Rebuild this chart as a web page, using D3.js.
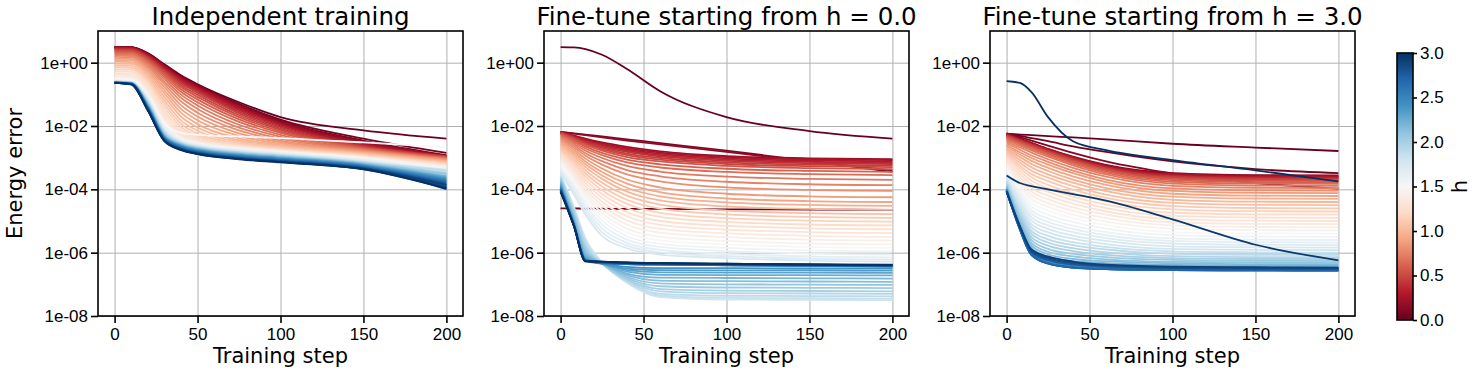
<!DOCTYPE html>
<html lang="en">
<head>
<meta charset="UTF-8">
<title>Energy error vs training step</title>
<script src="https://d3js.org/d3.v7.min.js"></script>
<style>
    body { margin: 0; background: #fff; }
    svg { font-family: "DejaVu Sans", sans-serif; }
    .axis text { font-size: 17px; fill: #000; }
    .axis path, .axis line { stroke: #000; stroke-width: 1.6px; }
    .grid line { stroke: #b0b0b0; stroke-width: 1px; }
    .grid path { display: none; }
    .frame { fill: none; stroke: #000; stroke-width: 1.6px; }
    .title { font-size: 24.5px; text-anchor: middle; }
    .label { font-size: 21px; text-anchor: middle; }
    .curve { fill: none; stroke-width: 1.8px; }
</style>
</head>
<body>
<svg id="chart" width="1477" height="373"></svg>
<script>
// h value of each curve (colour)
const hValues = [0.00, 0.05, 0.10, 0.15, 0.20, 0.25, 0.30, 0.35, 0.40, 0.45,
    0.50, 0.55, 0.60, 0.65, 0.70, 0.75, 0.80, 0.85, 0.90, 0.95,
    1.00, 1.05, 1.10, 1.15, 1.20, 1.25, 1.30, 1.35, 1.40, 1.45,
    1.50, 1.55, 1.60, 1.65, 1.70, 1.75, 1.80, 1.85, 1.90, 1.95,
    2.00, 2.05, 2.10, 2.15, 2.20, 2.25, 2.30, 2.35, 2.40, 2.45,
    2.50, 2.55, 2.60, 2.65, 2.70, 2.75, 2.80, 2.85, 2.90, 2.95, 3.00];

const titles = ["Independent training", "Fine-tune starting from h = 0.0", "Fine-tune starting from h = 3.0"];
const xTicks = [0, 50, 100, 150, 200];
const yTicks = [1e-8, 1e-6, 1e-4, 1e-2, 1];
const cbTicks = [0, 0.5, 1.0, 1.5, 2.0, 2.5, 3.0];

// training steps at which the curves were read
const steps1 = [0, 10, 20, 30, 40, 50, 75, 100, 150, 200];
const steps2 = [0, 8, 15, 25, 40, 60, 100, 150, 200];
const steps3 = [0, 8, 15, 25, 40, 60, 100, 150, 200];

// log10(energy error), one row per h value
const indepLogErr = [
    [0.50, 0.49, 0.30, -0.05, -0.40, -0.68, -1.25, -1.72, -2.14, -2.40],
    [0.50, 0.49, 0.29, -0.07, -0.42, -0.70, -1.30, -1.80, -2.40, -2.85],
    [0.49, 0.48, 0.28, -0.08, -0.44, -0.72, -1.32, -1.84, -2.46, -2.92],
    [0.49, 0.48, 0.27, -0.10, -0.46, -0.74, -1.35, -1.87, -2.50, -2.94],
    [0.48, 0.47, 0.26, -0.11, -0.48, -0.76, -1.38, -1.90, -2.53, -2.95],
    [0.47, 0.46, 0.24, -0.13, -0.50, -0.79, -1.41, -1.93, -2.56, -2.96],
    [0.46, 0.45, 0.22, -0.16, -0.53, -0.82, -1.45, -1.96, -2.58, -2.95],
    [0.45, 0.44, 0.20, -0.19, -0.57, -0.86, -1.50, -2.00, -2.61, -2.97],
    [0.43, 0.42, 0.18, -0.22, -0.61, -0.90, -1.55, -2.04, -2.63, -2.96],
    [0.41, 0.40, 0.15, -0.26, -0.66, -0.95, -1.60, -2.08, -2.65, -2.98],
    [0.39, 0.38, 0.12, -0.30, -0.71, -1.01, -1.66, -2.12, -2.67, -2.97],
    [0.36, 0.35, 0.09, -0.34, -0.77, -1.08, -1.72, -2.17, -2.69, -2.99],
    [0.33, 0.32, 0.05, -0.39, -0.84, -1.16, -1.79, -2.22, -2.71, -3.00],
    [0.30, 0.29, 0.01, -0.45, -0.92, -1.25, -1.87, -2.28, -2.73, -3.02],
    [0.26, 0.25, -0.04, -0.52, -1.01, -1.35, -1.96, -2.34, -2.75, -3.03],
    [0.22, 0.21, -0.09, -0.60, -1.11, -1.46, -2.05, -2.40, -2.77, -3.05],
    [0.18, 0.17, -0.14, -0.68, -1.22, -1.58, -2.14, -2.46, -2.79, -3.06],
    [0.13, 0.12, -0.20, -0.77, -1.34, -1.70, -2.23, -2.51, -2.81, -3.08],
    [0.08, 0.07, -0.26, -0.87, -1.46, -1.82, -2.31, -2.56, -2.83, -3.10],
    [0.03, 0.02, -0.32, -0.97, -1.58, -1.94, -2.39, -2.60, -2.85, -3.12],
    [-0.03, -0.04, -0.39, -1.08, -1.70, -2.05, -2.45, -2.64, -2.87, -3.14],
    [-0.09, -0.10, -0.46, -1.19, -1.82, -2.15, -2.50, -2.67, -2.89, -3.16],
    [-0.15, -0.16, -0.53, -1.30, -1.93, -2.24, -2.55, -2.70, -2.91, -3.18],
    [-0.21, -0.22, -0.60, -1.41, -2.03, -2.31, -2.59, -2.73, -2.93, -3.20],
    [-0.27, -0.28, -0.67, -1.52, -2.12, -2.37, -2.62, -2.75, -2.95, -3.22],
    [-0.33, -0.34, -0.74, -1.62, -2.20, -2.42, -2.64, -2.77, -2.97, -3.24],
    [-0.38, -0.40, -0.81, -1.72, -2.27, -2.46, -2.66, -2.78, -2.98, -3.26],
    [-0.43, -0.45, -0.88, -1.81, -2.32, -2.49, -2.68, -2.79, -2.99, -3.28],
    [-0.47, -0.49, -0.94, -1.89, -2.36, -2.52, -2.70, -2.80, -3.00, -3.30],
    [-0.50, -0.52, -0.99, -1.95, -2.39, -2.54, -2.71, -2.81, -3.01, -3.32],
    [-0.53, -0.55, -1.03, -1.90, -2.22, -2.28, -2.33, -2.38, -2.52, -2.67],
    [-0.55, -0.57, -1.06, -2.00, -2.42, -2.57, -2.73, -2.83, -3.04, -3.36],
    [-0.57, -0.59, -1.10, -2.04, -2.45, -2.59, -2.75, -2.85, -3.06, -3.40],
    [-0.58, -0.60, -1.13, -2.08, -2.47, -2.61, -2.77, -2.87, -3.08, -3.45],
    [-0.58, -0.61, -1.16, -2.11, -2.49, -2.62, -2.78, -2.88, -3.10, -3.50],
    [-0.59, -0.61, -1.18, -2.14, -2.51, -2.64, -2.80, -2.90, -3.12, -3.55],
    [-0.59, -0.62, -1.20, -2.16, -2.52, -2.65, -2.81, -2.91, -3.13, -3.38],
    [-0.60, -0.62, -1.22, -2.18, -2.53, -2.66, -2.82, -2.92, -3.14, -3.60],
    [-0.60, -0.63, -1.24, -2.20, -2.54, -2.67, -2.83, -2.93, -3.15, -3.42],
    [-0.60, -0.63, -1.26, -2.22, -2.55, -2.68, -2.84, -2.94, -3.16, -3.65],
    [-0.61, -0.63, -1.27, -2.24, -2.56, -2.69, -2.85, -2.95, -3.17, -3.48],
    [-0.61, -0.64, -1.29, -2.26, -2.57, -2.70, -2.86, -2.96, -3.18, -3.70],
    [-0.61, -0.64, -1.30, -2.28, -2.58, -2.71, -2.87, -2.97, -3.19, -3.52],
    [-0.61, -0.64, -1.32, -2.30, -2.59, -2.72, -2.88, -2.98, -3.20, -3.75],
    [-0.62, -0.65, -1.33, -2.31, -2.60, -2.73, -2.89, -2.99, -3.21, -3.58],
    [-0.62, -0.65, -1.35, -2.33, -2.61, -2.74, -2.90, -3.00, -3.22, -3.80],
    [-0.62, -0.65, -1.36, -2.34, -2.62, -2.75, -2.91, -3.01, -3.23, -3.62],
    [-0.62, -0.65, -1.38, -2.35, -2.63, -2.76, -2.92, -3.02, -3.24, -3.85],
    [-0.62, -0.66, -1.39, -2.36, -2.64, -2.77, -2.93, -3.03, -3.25, -3.66],
    [-0.63, -0.66, -1.40, -2.37, -2.65, -2.78, -2.94, -3.04, -3.26, -3.90],
    [-0.63, -0.66, -1.41, -2.38, -2.66, -2.79, -2.95, -3.05, -3.27, -3.70],
    [-0.63, -0.66, -1.42, -2.39, -2.67, -2.80, -2.96, -3.06, -3.28, -3.95],
    [-0.63, -0.67, -1.43, -2.40, -2.68, -2.81, -2.97, -3.07, -3.29, -3.74],
    [-0.63, -0.67, -1.44, -2.41, -2.69, -2.82, -2.98, -3.08, -3.30, -4.00],
    [-0.63, -0.67, -1.45, -2.42, -2.70, -2.83, -2.99, -3.09, -3.31, -3.78],
    [-0.64, -0.67, -1.46, -2.43, -2.71, -2.84, -3.00, -3.10, -3.32, -3.88],
    [-0.64, -0.68, -1.47, -2.44, -2.72, -2.85, -3.01, -3.11, -3.33, -3.82],
    [-0.64, -0.68, -1.48, -2.45, -2.73, -2.86, -3.02, -3.12, -3.34, -3.92],
    [-0.64, -0.68, -1.49, -2.46, -2.74, -2.87, -3.03, -3.13, -3.35, -3.86],
    [-0.64, -0.68, -1.50, -2.47, -2.75, -2.88, -3.04, -3.14, -3.36, -3.96],
    [-0.64, -0.69, -1.51, -2.48, -2.76, -2.89, -3.05, -3.15, -3.37, -3.98]
];

const fromZeroLogErr = [
    [0.49, 0.48, 0.43, 0.25, -0.20, -0.90, -1.72, -2.16, -2.40],
    [-4.60, -4.60, -4.61, -4.61, -4.62, -4.62, -4.63, -4.64, -4.65],
    [-2.19, -2.23, -2.27, -2.33, -2.42, -2.54, -2.78, -3.10, -3.45],
    [-2.19, -2.24, -2.29, -2.36, -2.46, -2.58, -2.82, -3.12, -3.40],
    [-2.19, -2.30, -2.40, -2.52, -2.66, -2.80, -2.95, -3.02, -3.05],
    [-2.19, -2.31, -2.42, -2.55, -2.70, -2.84, -2.98, -3.05, -3.08],
    [-2.20, -2.33, -2.45, -2.58, -2.74, -2.88, -3.02, -3.09, -3.12],
    [-2.20, -2.34, -2.47, -2.61, -2.78, -2.92, -3.06, -3.13, -3.16],
    [-2.21, -2.36, -2.50, -2.65, -2.82, -2.96, -3.10, -3.17, -3.20],
    [-2.22, -2.38, -2.53, -2.69, -2.87, -3.01, -3.15, -3.22, -3.25],
    [-2.23, -2.40, -2.56, -2.73, -2.92, -3.06, -3.20, -3.27, -3.30],
    [-2.25, -2.43, -2.60, -2.78, -2.98, -3.12, -3.26, -3.33, -3.36],
    [-2.27, -2.47, -2.65, -2.85, -3.06, -3.21, -3.35, -3.42, -3.45],
    [-2.30, -2.51, -2.71, -2.92, -3.15, -3.31, -3.45, -3.52, -3.55],
    [-2.33, -2.56, -2.78, -3.01, -3.26, -3.44, -3.60, -3.67, -3.70],
    [-2.37, -2.62, -2.86, -3.11, -3.39, -3.59, -3.76, -3.84, -3.87],
    [-2.41, -2.68, -2.94, -3.22, -3.53, -3.75, -3.94, -4.02, -4.05],
    [-2.46, -2.75, -3.03, -3.34, -3.69, -3.94, -4.14, -4.22, -4.25],
    [-2.51, -2.82, -3.12, -3.45, -3.82, -4.09, -4.29, -4.37, -4.40],
    [-2.56, -2.89, -3.21, -3.56, -3.95, -4.22, -4.41, -4.49, -4.52],
    [-2.62, -2.96, -3.30, -3.67, -4.07, -4.35, -4.54, -4.62, -4.65],
    [-2.68, -3.04, -3.40, -3.79, -4.20, -4.48, -4.67, -4.75, -4.78],
    [-2.74, -3.12, -3.50, -3.91, -4.33, -4.61, -4.79, -4.87, -4.90],
    [-2.80, -3.20, -3.60, -4.03, -4.46, -4.74, -4.91, -4.99, -5.02],
    [-2.86, -3.28, -3.70, -4.15, -4.59, -4.87, -5.03, -5.11, -5.14],
    [-2.92, -3.36, -3.80, -4.27, -4.72, -5.00, -5.15, -5.23, -5.26],
    [-2.98, -3.44, -3.90, -4.39, -4.85, -5.12, -5.27, -5.35, -5.38],
    [-3.04, -3.52, -4.00, -4.51, -4.98, -5.25, -5.39, -5.47, -5.50],
    [-3.10, -3.60, -4.10, -4.63, -5.11, -5.37, -5.51, -5.59, -5.62],
    [-3.16, -3.68, -4.20, -4.75, -5.24, -5.50, -5.63, -5.71, -5.74],
    [-3.22, -3.76, -4.30, -4.87, -5.36, -5.61, -5.74, -5.82, -5.85],
    [-3.28, -3.84, -4.40, -4.99, -5.48, -5.72, -5.85, -5.93, -5.96],
    [-3.34, -3.92, -4.50, -5.11, -5.59, -5.82, -5.95, -6.03, -6.06],
    [-3.40, -4.00, -4.60, -5.23, -5.69, -5.91, -6.04, -6.12, -6.15],
    [-3.45, -4.08, -4.70, -5.35, -5.78, -5.99, -6.11, -6.19, -6.22],
    [-3.50, -4.16, -4.80, -5.47, -5.86, -6.06, -6.17, -6.25, -6.28],
    [-3.55, -4.55, -5.55, -6.30, -6.95, -7.40, -7.48, -7.49, -7.50],
    [-3.58, -4.60, -5.62, -6.32, -6.93, -7.36, -7.43, -7.44, -7.45],
    [-3.61, -4.65, -5.70, -6.33, -6.90, -7.30, -7.36, -7.37, -7.38],
    [-3.64, -4.70, -5.77, -6.34, -6.87, -7.22, -7.28, -7.29, -7.30],
    [-3.67, -4.75, -5.84, -6.34, -6.84, -7.15, -7.20, -7.21, -7.22],
    [-3.70, -4.80, -5.90, -6.34, -6.80, -7.06, -7.10, -7.11, -7.12],
    [-3.73, -4.85, -5.96, -6.34, -6.76, -6.97, -7.00, -7.01, -7.02],
    [-3.76, -4.90, -6.02, -6.34, -6.71, -6.88, -6.90, -6.91, -6.92],
    [-3.79, -4.95, -6.08, -6.34, -6.66, -6.79, -6.80, -6.81, -6.82],
    [-3.82, -5.00, -6.13, -6.34, -6.60, -6.70, -6.71, -6.71, -6.72],
    [-3.85, -5.04, -6.18, -6.34, -6.55, -6.62, -6.63, -6.63, -6.64],
    [-3.88, -5.08, -6.22, -6.35, -6.50, -6.55, -6.56, -6.56, -6.57],
    [-3.91, -5.12, -6.25, -6.35, -6.45, -6.49, -6.49, -6.50, -6.50],
    [-3.94, -5.10, -6.22, -6.33, -6.36, -6.38, -6.40, -6.42, -6.44],
    [-3.95, -5.11, -6.23, -6.33, -6.36, -6.38, -6.40, -6.42, -6.43],
    [-3.96, -5.11, -6.23, -6.32, -6.35, -6.37, -6.39, -6.41, -6.43],
    [-3.98, -5.12, -6.24, -6.32, -6.35, -6.37, -6.39, -6.41, -6.42],
    [-3.99, -5.12, -6.24, -6.31, -6.34, -6.36, -6.38, -6.40, -6.42],
    [-4.00, -5.13, -6.25, -6.31, -6.34, -6.36, -6.38, -6.40, -6.41],
    [-4.02, -5.13, -6.25, -6.30, -6.33, -6.35, -6.37, -6.39, -6.41],
    [-4.03, -5.14, -6.26, -6.30, -6.33, -6.35, -6.37, -6.39, -6.40],
    [-4.04, -5.14, -6.26, -6.29, -6.32, -6.34, -6.36, -6.38, -6.40],
    [-4.05, -5.15, -6.27, -6.29, -6.32, -6.34, -6.36, -6.38, -6.39],
    [-4.07, -5.15, -6.27, -6.28, -6.31, -6.33, -6.35, -6.37, -6.39],
    [-4.08, -5.16, -6.28, -6.28, -6.31, -6.33, -6.35, -6.37, -6.38]
];

const fromThreeLogErr = [
    [-2.24, -2.27, -2.29, -2.32, -2.36, -2.42, -2.56, -2.68, -2.79],
    [-2.24, -2.31, -2.38, -2.48, -2.64, -2.82, -3.12, -3.36, -3.49],
    [-2.24, -2.35, -2.46, -2.62, -2.85, -3.12, -3.50, -3.80, -3.98],
    [-2.24, -2.40, -2.53, -2.72, -2.97, -3.23, -3.49, -3.55, -3.56],
    [-2.25, -2.41, -2.54, -2.73, -2.98, -3.25, -3.51, -3.57, -3.58],
    [-2.26, -2.42, -2.55, -2.74, -3.00, -3.27, -3.53, -3.59, -3.60],
    [-2.27, -2.43, -2.57, -2.76, -3.01, -3.28, -3.55, -3.61, -3.62],
    [-2.28, -2.44, -2.58, -2.77, -3.03, -3.30, -3.57, -3.63, -3.64],
    [-2.29, -2.45, -2.59, -2.78, -3.04, -3.32, -3.59, -3.65, -3.66],
    [-2.31, -2.47, -2.61, -2.80, -3.06, -3.34, -3.61, -3.67, -3.68],
    [-2.33, -2.50, -2.63, -2.83, -3.09, -3.37, -3.64, -3.70, -3.71],
    [-2.35, -2.52, -2.66, -2.85, -3.11, -3.39, -3.67, -3.73, -3.74],
    [-2.38, -2.55, -2.69, -2.88, -3.15, -3.43, -3.71, -3.77, -3.78],
    [-2.41, -2.58, -2.72, -2.92, -3.19, -3.48, -3.76, -3.82, -3.83],
    [-2.45, -2.62, -2.77, -2.97, -3.24, -3.53, -3.82, -3.88, -3.89],
    [-2.49, -2.68, -2.84, -3.05, -3.32, -3.60, -3.89, -3.95, -3.96],
    [-2.54, -2.75, -2.93, -3.13, -3.41, -3.69, -3.97, -4.03, -4.04],
    [-2.59, -2.83, -3.01, -3.22, -3.49, -3.77, -4.05, -4.11, -4.12],
    [-2.64, -2.90, -3.10, -3.32, -3.59, -3.86, -4.14, -4.20, -4.21],
    [-2.70, -2.98, -3.20, -3.42, -3.69, -3.96, -4.23, -4.29, -4.30],
    [-2.76, -3.07, -3.30, -3.53, -3.79, -4.06, -4.33, -4.39, -4.40],
    [-2.82, -3.16, -3.41, -3.63, -3.90, -4.17, -4.43, -4.49, -4.50],
    [-2.88, -3.25, -3.52, -3.74, -4.01, -4.27, -4.53, -4.59, -4.60],
    [-2.94, -3.33, -3.62, -3.86, -4.12, -4.38, -4.63, -4.69, -4.70],
    [-3.00, -3.42, -3.73, -3.97, -4.23, -4.48, -4.74, -4.79, -4.80],
    [-3.06, -3.52, -3.84, -4.08, -4.34, -4.59, -4.84, -4.89, -4.90],
    [-3.12, -3.61, -3.96, -4.20, -4.45, -4.70, -4.94, -4.99, -5.00],
    [-3.18, -3.70, -4.07, -4.31, -4.57, -4.80, -5.04, -5.09, -5.10],
    [-3.24, -3.79, -4.18, -4.43, -4.68, -4.91, -5.14, -5.19, -5.20],
    [-3.30, -3.89, -4.30, -4.55, -4.80, -5.02, -5.24, -5.29, -5.30],
    [-3.36, -3.98, -4.42, -4.67, -4.91, -5.13, -5.35, -5.39, -5.40],
    [-3.42, -4.08, -4.54, -4.80, -5.03, -5.24, -5.45, -5.49, -5.50],
    [-3.48, -4.18, -4.66, -4.92, -5.15, -5.35, -5.55, -5.59, -5.60],
    [-3.53, -4.26, -4.77, -5.03, -5.25, -5.45, -5.63, -5.67, -5.68],
    [-3.58, -4.35, -4.87, -5.14, -5.35, -5.54, -5.71, -5.75, -5.76],
    [-3.63, -4.43, -4.98, -5.25, -5.46, -5.63, -5.80, -5.83, -5.84],
    [-3.68, -4.52, -5.10, -5.36, -5.56, -5.73, -5.88, -5.91, -5.92],
    [-3.72, -4.60, -5.20, -5.47, -5.67, -5.82, -5.96, -5.99, -6.00],
    [-3.76, -4.68, -5.31, -5.58, -5.76, -5.90, -6.04, -6.07, -6.07],
    [-3.80, -4.76, -5.41, -5.68, -5.86, -5.99, -6.11, -6.14, -6.14],
    [-3.84, -4.84, -5.51, -5.78, -5.95, -6.07, -6.17, -6.20, -6.20],
    [-3.87, -4.91, -5.60, -5.88, -6.04, -6.14, -6.23, -6.26, -6.26],
    [-3.90, -4.97, -5.69, -5.97, -6.12, -6.21, -6.29, -6.31, -6.31],
    [-3.93, -5.04, -5.78, -6.05, -6.20, -6.27, -6.34, -6.36, -6.36],
    [-3.95, -5.10, -5.86, -6.14, -6.27, -6.33, -6.39, -6.40, -6.40],
    [-3.97, -5.16, -5.95, -6.22, -6.34, -6.39, -6.43, -6.44, -6.44],
    [-3.99, -5.18, -5.97, -6.25, -6.37, -6.42, -6.46, -6.47, -6.47],
    [-4.00, -5.20, -6.00, -6.28, -6.40, -6.45, -6.49, -6.50, -6.50],
    [-4.01, -5.21, -6.02, -6.29, -6.42, -6.47, -6.51, -6.52, -6.52],
    [-4.02, -5.22, -6.03, -6.31, -6.43, -6.49, -6.53, -6.54, -6.54],
    [-4.03, -5.24, -6.05, -6.32, -6.45, -6.50, -6.54, -6.55, -6.55],
    [-4.04, -5.25, -6.06, -6.33, -6.46, -6.51, -6.55, -6.56, -6.56],
    [-4.05, -5.26, -6.07, -6.34, -6.47, -6.52, -6.55, -6.56, -6.56],
    [-4.05, -5.26, -6.07, -6.34, -6.47, -6.52, -6.55, -6.56, -6.57],
    [-4.06, -5.27, -6.08, -6.35, -6.47, -6.52, -6.55, -6.56, -6.57],
    [-4.06, -5.22, -6.00, -6.24, -6.38, -6.45, -6.50, -6.52, -6.53],
    [-4.07, -5.20, -5.97, -6.20, -6.34, -6.42, -6.48, -6.50, -6.51],
    [-4.07, -5.18, -5.93, -6.16, -6.31, -6.40, -6.46, -6.48, -6.49],
    [-4.08, -5.15, -5.90, -6.12, -6.28, -6.38, -6.44, -6.46, -6.47],
    [-3.56, -3.80, -3.90, -4.00, -4.15, -4.36, -4.95, -5.75, -6.24],
    [-0.58, -0.64, -0.93, -1.72, -2.48, -2.76, -3.08, -3.40, -3.75]
];

// layout
const panelLefts = [98, 544, 990];
const plotTop = 31;
const panelWidth = 365, panelHeight = 285;
const cb = {x: 1397, y: 53, w: 16, h: 267};

const svg = d3.select("#chart");

// matplotlib RdBu
const rdbu = ["#67001f", "#b2182b", "#d6604d", "#f4a582", "#fddbc7", "#f7f7f7",
              "#d1e5f0", "#92c5de", "#4393c3", "#2166ac", "#053061"];
const color = d3.scaleLinear()
    .domain(rdbu.map((c, i) => i * 0.3))
    .range(rdbu)
    .interpolate(d3.interpolateRgb);

const x = d3.scaleLinear().domain([-10, 210]).range([0, panelWidth]);
const y = d3.scaleLog().domain([1e-8, 1e1]).range([panelHeight, 0]);

function expFormat(d) {
    const e = Math.round(Math.log10(d));
    return "1e" + (e < 0 ? "-" : "+") + String(Math.abs(e)).padStart(2, "0");
}

const defs = svg.append("defs");
defs.append("clipPath").attr("id", "plot-clip")
    .append("rect").attr("width", panelWidth).attr("height", panelHeight);

const panels = [
    {steps: steps1, rows: indepLogErr},
    {steps: steps2, rows: fromZeroLogErr},
    {steps: steps3, rows: fromThreeLogErr}
];

panels.forEach(function(p, k) {
    const g = svg.append("g")
        .attr("transform", "translate(" + panelLefts[k] + "," + plotTop + ")");

    // grid
    g.append("g")
        .attr("class", "grid")
        .attr("transform", "translate(0," + panelHeight + ")")
        .call(d3.axisBottom(x).tickValues(xTicks).tickSize(-panelHeight).tickFormat(""));
    g.append("g")
        .attr("class", "grid")
        .call(d3.axisLeft(y).tickValues(yTicks).tickSize(-panelWidth).tickFormat(""));

    const line = d3.line()
        .curve(d3.curveMonotoneX)
        .x((v, j) => x(p.steps[j]))
        .y(v => y(Math.pow(10, v)));

    g.append("g")
        .attr("clip-path", "url(#plot-clip)")
        .selectAll("path")
        .data(p.rows)
        .join("path")
        .attr("class", "curve")
        .attr("stroke", (r, i) => color(hValues[i]))
        .attr("d", line);

    g.append("g")
        .attr("class", "axis")
        .attr("transform", "translate(0," + panelHeight + ")")
        .call(d3.axisBottom(x).tickValues(xTicks).tickSize(7).tickPadding(5).tickSizeOuter(0));
    g.append("g")
        .attr("class", "axis")
        .call(d3.axisLeft(y).tickValues(yTicks).tickFormat(expFormat).tickSize(7).tickPadding(3).tickSizeOuter(0));
    g.selectAll(".axis .domain").remove();

    g.append("rect")
        .attr("class", "frame")
        .attr("width", panelWidth)
        .attr("height", panelHeight);

    g.append("text")
        .attr("class", "title")
        .attr("x", panelWidth / 2)
        .attr("y", -6)
        .text(titles[k]);

    g.append("text")
        .attr("class", "label")
        .attr("x", panelWidth / 2)
        .attr("y", panelHeight + 47)
        .text("Training step");
});

svg.append("text")
    .attr("class", "label")
    .attr("transform", "translate(22," + (plotTop + panelHeight / 2) + ") rotate(-90)")
    .text("Energy error");

// colorbar
const grad = defs.append("linearGradient")
    .attr("id", "cb-grad")
    .attr("x1", 0).attr("y1", 1).attr("x2", 0).attr("y2", 0);
grad.selectAll("stop")
    .data(rdbu)
    .join("stop")
    .attr("offset", (c, i) => i / (rdbu.length - 1))
    .attr("stop-color", c => c);

svg.append("rect")
    .attr("x", cb.x).attr("y", cb.y)
    .attr("width", cb.w).attr("height", cb.h)
    .attr("fill", "url(#cb-grad)")
    .attr("stroke", "#000")
    .attr("stroke-width", 1.6);

const cbScale = d3.scaleLinear().domain([0, 3]).range([cb.y + cb.h, cb.y]);
svg.append("g")
    .attr("class", "axis")
    .attr("transform", "translate(" + (cb.x + cb.w) + ",0)")
    .call(d3.axisRight(cbScale).tickValues(cbTicks).tickFormat(d3.format(".1f")).tickSize(4).tickPadding(3).tickSizeOuter(0))
    .select(".domain").remove();

svg.append("text")
    .attr("class", "label")
    .attr("transform", "translate(1467," + (cb.y + cb.h / 2) + ") rotate(-90)")
    .text("h");
</script>
</body>
</html>
